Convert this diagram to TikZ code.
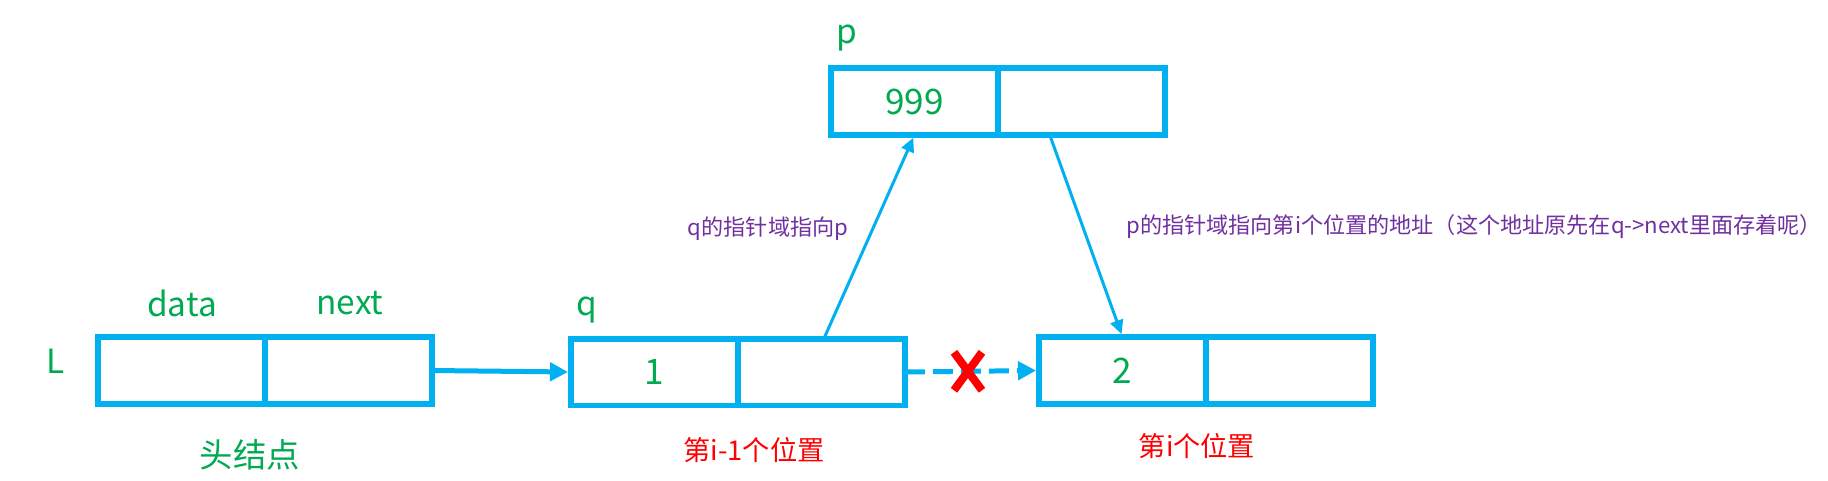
\documentclass[tikz,border=0pt]{standalone}
\usepackage{fontspec}
\setmainfont{Noto Sans CJK SC}
\usetikzlibrary{positioning,arrows.meta,calc}
\definecolor{boxblue}{RGB}{0,176,240}
\definecolor{txtgreen}{RGB}{0,170,80}
\definecolor{notepurple}{RGB}{112,48,160}
\begin{document}
\begin{tikzpicture}[x=0.02cm,y=-0.02cm,
    cell/.style={draw=boxblue,line width=0.12cm,outer sep=0pt,inner sep=0pt,
      minimum width=3.34cm,minimum height=1.34cm,text=txtgreen,
      font=\fontsize{20}{24}\selectfont},
    lbl/.style={text=txtgreen,font=\fontsize{19}{23}\selectfont},
    place/.style={text=red,font=\fontsize{15.5}{19}\selectfont},
    note/.style={text=notepurple,font=\fontsize{12.6}{15}\selectfont},
    link/.style={draw=boxblue,line width=0.1cm,shorten >=0.06cm,
      -{Triangle[length=0.36cm,width=0.36cm]}},
    ptr/.style={draw=boxblue,line width=0.06cm,shorten >=0.06cm,
      -{Triangle[length=0.28cm,width=0.26cm]}}]
  \useasboundingbox (0,0) rectangle (1828,480);
  % head node L
  \node[cell] (Ldata) at (181.5,370.5) {};
  \node[cell,right=0pt of Ldata] (Lnext) {};
  \node[lbl] (Lname) at (56,361) {L};
  \node[lbl] (datalbl) at (182,303) {data};
  \node[lbl] (nextlbl) at (350,303) {next};
  \node[lbl] (headlbl) at (250,455) {头结点};
  % node q and node i
  \node[cell] (qdata) at (654.5,372) {1};
  \node[cell,right=0pt of qdata] (qnext) {};
  \node[lbl] (qname) at (587,310) {q};
  \node[place] (qplace) at (754,450) {第i-1个位置};
  \node[cell] (sdata) at (1122.5,370.5) {2};
  \node[cell,right=0pt of sdata] (snext) {};
  \node[place] (splace) at (1197,446) {第i个位置};
  % new node p
  \node[cell] (pdata) at (914.5,101.5) {999};
  \node[cell,right=0pt of pdata] (pnext) {};
  \node[lbl] (pname) at (847,38) {p};
  % links
  \draw[link] (Lnext.east) -- (qdata.west);
  \draw[link,dash pattern=on 0.4cm off 0.16cm] (qnext.east) -- (sdata.west);
  \coordinate (cut) at ($(qnext.east)!0.47!(sdata.west)$);
  \draw[red,line width=0.16cm] ($(cut)+(-14,-19)$) -- ($(cut)+(14,19)$)
    ($(cut)+(-14,19)$) -- ($(cut)+(14,-19)$);
  \draw[ptr] ([xshift=0.05cm]qnext.north) -- (pdata.south);
  \draw[ptr] ($(pnext.south west)!0.31!(pnext.south east)$) -- (sdata.north);
  \node[note] (qnote) at (768,229) {q的指针域指向p};
  \node[note,anchor=west,inner sep=0pt] (pnote) at (1126,227)
    {p的指针域指向第i个位置的地址（这个地址原先在q->next里面存着呢）};
\end{tikzpicture}
\end{document}
